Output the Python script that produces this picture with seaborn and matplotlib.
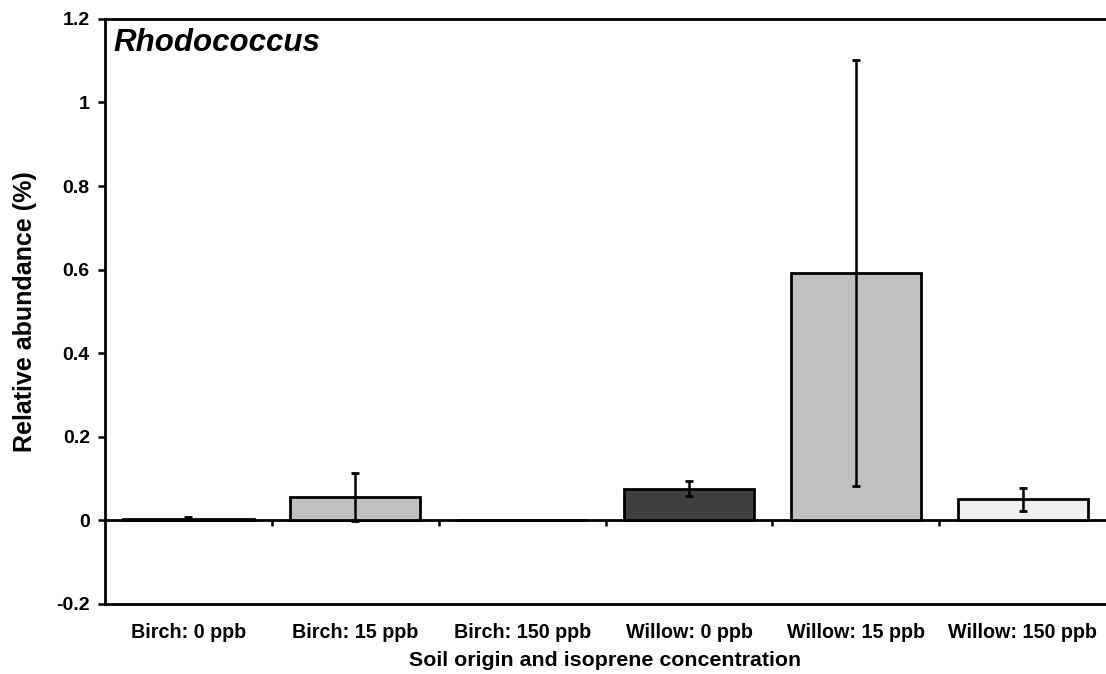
import matplotlib
matplotlib.use("Agg")
import matplotlib.pyplot as plt
import seaborn as sns
import pandas as pd

# Relative abundance of Rhodococcus per soil origin / isoprene treatment
categories = ["Birch: 0 ppb", "Birch: 15 ppb", "Birch: 150 ppb",
              "Willow: 0 ppb", "Willow: 15 ppb", "Willow: 150 ppb"]
abundance = [0.004, 0.056, 0.0, 0.076, 0.592, 0.050]
abundance_err = [0.003, 0.057, 0.0, 0.017, 0.510, 0.028]
bar_colors = ["#404040", "#c0c0c0", "#f0f0f0", "#404040", "#c0c0c0", "#f0f0f0"]
y_ticks = [-0.2, 0, 0.2, 0.4, 0.6, 0.8, 1.0, 1.2]
y_tick_labels = ["-0.2", "0", "0.2", "0.4", "0.6", "0.8", "1", "1.2"]

df = pd.DataFrame({"group": categories, "value": abundance, "err": abundance_err})

sns.set_theme(style="white")
plt.rcParams["font.family"] = ["Liberation Sans", "DejaVu Sans"]
plt.rcParams["font.weight"] = "bold"
plt.rcParams["text.color"] = "black"
plt.rcParams["axes.labelcolor"] = "black"
plt.rcParams["xtick.color"] = "black"
plt.rcParams["ytick.color"] = "black"

fig, ax = plt.subplots(figsize=(11.06, 6.74), dpi=100)
fig.subplots_adjust(left=0.095, right=1.0, bottom=0.104, top=0.972)

sns.barplot(data=df, x="group", y="value", hue="group", palette=bar_colors,
            legend=False, width=0.78, edgecolor="black", linewidth=2.0,
            errorbar=None, ax=ax, zorder=2)

# standard-error bars on each category position
xpos = list(range(len(categories)))
ax.errorbar(xpos, df["value"], yerr=df["err"], fmt="none", ecolor="black",
            elinewidth=1.8, capsize=3.2, capthick=2.0, zorder=3)

ax.set_xlim(-0.5, len(categories) - 0.5)
ax.set_ylim(-0.2, 1.2)
ax.set_yticks(y_ticks)
ax.set_yticklabels(y_tick_labels)

# zero baseline with separators between categories
base = ax.secondary_xaxis(0, transform=ax.transData)
base.set_xticks([i + 0.5 for i in range(len(categories) - 1)])
base.set_xticklabels([])
base.spines["bottom"].set_linewidth(2.0)
base.spines["bottom"].set_color("black")
base.tick_params(axis="x", direction="out", length=4, width=1.8, color="black")

for side in ["left", "top", "bottom"]:
    ax.spines[side].set_visible(True)
    ax.spines[side].set_color("black")
    ax.spines[side].set_linewidth(2.0)
ax.spines["right"].set_visible(False)

ax.tick_params(axis="y", direction="out", length=5, width=1.8, color="black",
               labelcolor="black", labelsize=14, pad=6, left=True)
ax.tick_params(axis="x", length=0, labelsize=14.2, labelcolor="black", pad=14)
for lab in ax.get_xticklabels() + ax.get_yticklabels():
    lab.set_fontweight("bold")

ax.set_xlabel("Soil origin and isoprene concentration", fontsize=15.4,
              fontweight="bold", color="black", labelpad=6)
ax.set_ylabel("Relative abundance (%)", fontsize=18, fontweight="bold",
              color="black", labelpad=14)

ax.text(0.008, 0.985, "Rhodococcus", transform=ax.transAxes, fontsize=22.5,
        fontweight="bold", fontstyle="italic", color="black",
        va="top", ha="left")

fig.savefig("out.png", dpi=100)
